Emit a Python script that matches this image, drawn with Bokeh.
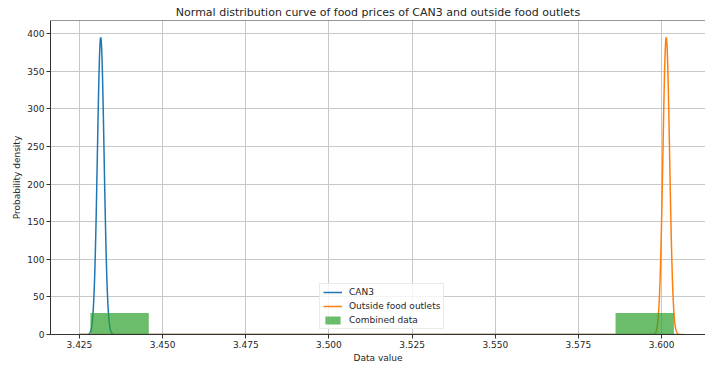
import numpy as np
from bokeh.plotting import figure
from bokeh.models import FixedTicker, PrintfTickFormatter, Span, Legend, LegendItem
from bokeh.embed import file_html
from bokeh.resources import INLINE

# ---- data ----
series_names = ["CAN3", "Outside food outlets"]
series_means = [3.4314, 3.6014]
series_stds = [0.00101, 0.00101]
series_x_start = [3.425, 3.425]
series_x_end = [3.6045, 3.6068]
series_colors = ["#1f77b4", "#ff7f0e"]

hist_edges = [3.4283, 3.44584, 3.46338, 3.48092, 3.49846, 3.516, 3.53354,
              3.55108, 3.56862, 3.58616, 3.6037]
hist_density = [28.5, 0, 0, 0, 0, 0, 0, 0, 0, 28.5]

x_ticks = [3.425, 3.450, 3.475, 3.500, 3.525, 3.550, 3.575, 3.600]
y_ticks = [0, 50, 100, 150, 200, 250, 300, 350, 400]

FONT = "DejaVu Sans"
TXT = "#262626"

p = figure(width=705, height=365, output_backend="svg", toolbar_location=None,
           x_range=(3.4163, 3.6132), y_range=(0, 417.5),
           title="Normal distribution curve of food prices of CAN3 and outside food outlets",
           min_border_left=50, min_border_right=0, min_border_top=20, min_border_bottom=31)
p.title.align = "center"
p.title.offset = 4
p.title.text_font = FONT
p.title.text_font_size = "11px"
p.title.text_font_style = "normal"
p.title.text_color = TXT
p.title.standoff = 3
p.outline_line_color = None
p.background_fill_color = "white"
p.border_fill_color = "white"

for ax in (p.xaxis, p.yaxis):
    ax.major_label_text_font = FONT
    ax.major_label_text_font_size = "9px"
    ax.major_label_text_color = TXT
    ax.axis_label_text_font = FONT
    ax.axis_label_text_font_size = "9px"
    ax.axis_label_text_font_style = "normal"
    ax.axis_label_text_color = TXT
    ax.axis_line_color = "#333333"
    ax.major_tick_line_color = "#333333"
    ax.major_tick_in = 0
    ax.major_tick_out = 4
    ax.minor_tick_line_color = None
    ax.major_label_standoff = 2

p.xaxis.ticker = FixedTicker(ticks=x_ticks)
p.xaxis.formatter = PrintfTickFormatter(format="%.3f")
p.yaxis.ticker = FixedTicker(ticks=y_ticks)
p.xaxis.axis_label = "Data value"
p.yaxis.axis_label = "Probability density"
p.xaxis.axis_label_standoff = 2
p.yaxis.axis_label_standoff = 2

p.xgrid.grid_line_color = "#c8c8c8"
p.ygrid.grid_line_color = "#c8c8c8"
p.xgrid.grid_line_width = 1
p.ygrid.grid_line_width = 1

p.add_layout(Span(location=417.5, dimension="width", line_color="#333333", line_width=1))

items = []
for name, mu, sd, x0, x1, col in zip(series_names, series_means, series_stds,
                                     series_x_start, series_x_end, series_colors):
    xs = np.linspace(x0, x1, 3000)
    ys = np.exp(-0.5 * ((xs - mu) / sd) ** 2) / (sd * np.sqrt(2 * np.pi))
    r = p.line(xs, ys, line_color=col, line_width=1.5)
    items.append(LegendItem(label=name, renderers=[r]))

hq = p.quad(left=hist_edges[:-1], right=hist_edges[1:], bottom=0, top=hist_density,
            fill_color="#2ca02c", fill_alpha=0.7, line_color=None)
items.append(LegendItem(label="Combined data", renderers=[hq]))

legend = Legend(items=items, location=(269, 5))
legend.label_text_font = FONT
legend.label_text_font_size = "9px"
legend.label_text_color = TXT
legend.glyph_width = 19
legend.glyph_height = 10
legend.label_height = 10
legend.spacing = 4
legend.padding = 3
legend.margin = 0
legend.label_standoff = 7
legend.border_line_color = "#d6d6d6"
legend.border_line_width = 1
legend.background_fill_alpha = 0.8
p.add_layout(legend, "center")

open("out.html", "w").write(file_html(p, INLINE))
